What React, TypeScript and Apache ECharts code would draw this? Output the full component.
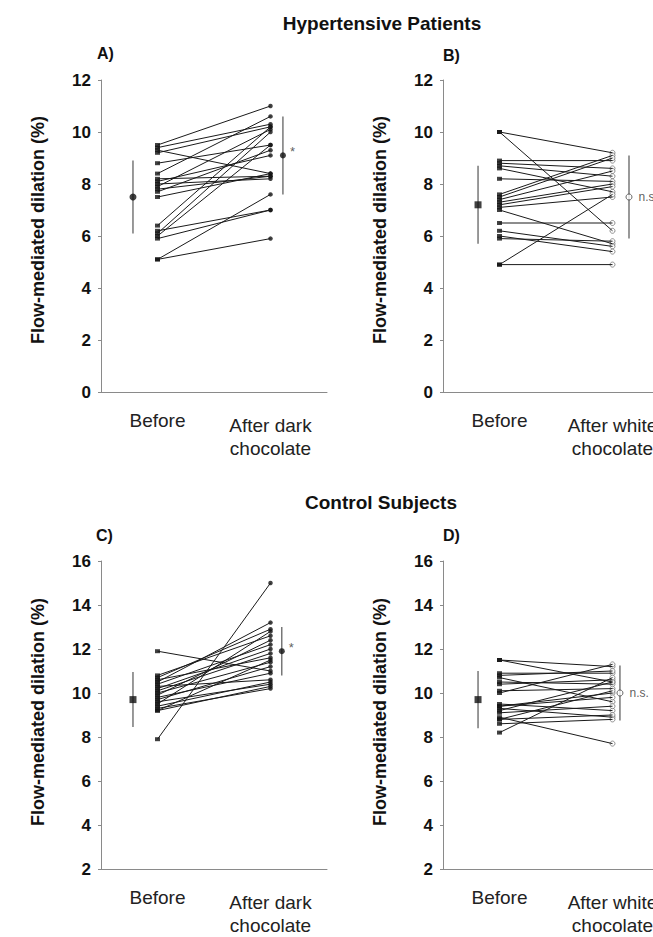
import React, { useEffect, useRef } from "react";
import * as echarts from "echarts";

// ---- data ----
const catsDark = ["Before", "After dark\nchocolate"];
const catsWhite = ["Before", "After white\nchocolate"];

const aBefore = [9.5, 9.4, 9.3, 9.2, 8.8, 8.4, 8.2, 8.1, 8.0, 7.9, 7.8, 7.7, 7.5, 6.4, 6.2, 6.1, 6.0, 5.9, 5.1, 5.1];
const aAfter = [11.0, 10.3, 8.4, 10.2, 9.5, 10.6, 8.3, 9.1, 8.2, 10.1, 8.3, 9.3, 8.4, 10.2, 7.0, 10.0, 9.5, 7.0, 7.6, 5.9];

const bBefore = [10.0, 10.0, 8.9, 8.8, 8.7, 8.6, 8.2, 7.6, 7.5, 7.4, 7.3, 7.2, 7.1, 7.0, 6.5, 6.2, 6.0, 5.9, 4.9, 4.9];
const bAfter = [6.2, 9.2, 8.9, 8.6, 8.3, 7.7, 8.1, 9.1, 9.0, 8.5, 8.0, 7.9, 7.5, 5.7, 6.5, 5.6, 5.4, 5.8, 4.9, 7.6];

const cBefore = [11.9, 10.8, 10.7, 10.6, 10.5, 10.4, 10.3, 10.2, 10.1, 10.0, 9.9, 9.8, 9.7, 9.6, 9.5, 9.4, 9.3, 9.2, 9.2, 7.9];
const cAfter = [11.0, 12.6, 12.9, 11.6, 13.2, 12.2, 10.6, 12.0, 11.8, 11.4, 12.4, 10.9, 11.2, 10.4, 12.8, 10.5, 10.2, 11.5, 10.3, 15.0];

const dBefore = [11.5, 11.5, 10.9, 10.8, 10.7, 10.5, 10.4, 10.1, 10.0, 9.5, 9.4, 9.4, 9.3, 9.2, 9.1, 8.9, 8.8, 8.8, 8.6, 8.2];
const dAfter = [11.2, 10.5, 10.9, 11.0, 9.6, 10.4, 10.6, 10.2, 11.3, 9.2, 10.0, 9.8, 8.9, 10.5, 9.4, 7.7, 10.1, 9.0, 8.8, 10.7];

const meanA = [7.5, 9.1];
const sdA = [1.4, 1.5];
const meanB = [7.2, 7.5];
const sdB = [1.5, 1.6];
const meanC = [9.7, 11.9];
const sdC = [1.25, 1.1];
const meanD = [9.7, 10.0];
const sdD = [1.3, 1.25];

const yTicksTop = { min: 0, max: 12, step: 2 };
const yTicksBottom = { min: 2, max: 16, step: 2 };

const sigLabels = ["*", "n.s", "*", "n.s."];
const panelLetters = ["A)", "B)", "C)", "D)"];
const titles = ["Hypertensive Patients", "Control Subjects"];
const yName = "Flow-mediated dilation (%)";

const FONT = "'Liberation Sans', Arial, Helvetica, sans-serif";

export default function App() {
  const ref = useRef<HTMLDivElement>(null);

  useEffect(() => {
    if (!ref.current) return;
    const chart = echarts.init(ref.current, null, { renderer: "svg" });

    const panels = [
      { left: 101, top: 80, height: 312, ticks: yTicksTop, cats: catsDark, before: aBefore, after: aAfter, mean: meanA, sd: sdA, open: false, xl: -0.217, xr: 1.11, meanSym: "circle" },
      { left: 443, top: 80, height: 312, ticks: yTicksTop, cats: catsWhite, before: bBefore, after: bAfter, mean: meanB, sd: sdB, open: true, xl: -0.19, xr: 1.146, meanSym: "rect" },
      { left: 101, top: 561, height: 314, ticks: yTicksBottom, cats: catsDark, before: cBefore, after: cAfter, mean: meanC, sd: sdC, open: false, xl: -0.217, xr: 1.10, meanSym: "rect" },
      { left: 443, top: 561, height: 314, ticks: yTicksBottom, cats: catsWhite, before: dBefore, after: dAfter, mean: meanD, sd: sdD, open: true, xl: -0.19, xr: 1.066, meanSym: "rect" },
    ];

    const grid: any[] = [];
    const xAxis: any[] = [];
    const yAxis: any[] = [];
    const series: any[] = [];

    panels.forEach((p, i) => {
      grid.push({ left: p.left, top: p.top, width: 226, height: p.height });
      xAxis.push({
        type: "category",
        gridIndex: i,
        data: p.cats.map((c, k) => ({
          value: c,
          textStyle: { padding: k === 0 ? [0, 0, 0, 0] : [5, 0, 0, 0] },
        })),
        axisLine: { show: true, onZero: false, lineStyle: { color: "#8a8a8a", width: 1 } },
        axisTick: { show: false },
        axisLabel: {
          interval: 0,
          margin: 17,
          fontSize: 19,
          lineHeight: 23,
          color: "#222",
          fontFamily: FONT,
        },
        splitLine: { show: false },
      });
      xAxis.push({
        type: "value",
        gridIndex: i,
        min: -0.5,
        max: 1.5,
        show: false,
      });
      yAxis.push({
        type: "value",
        gridIndex: i,
        min: p.ticks.min,
        max: p.ticks.max,
        interval: p.ticks.step,
        axisLine: { show: true, onZero: false, lineStyle: { color: "#8a8a8a", width: 1 } },
        axisTick: { show: true, length: 3, lineStyle: { color: "#8a8a8a" } },
        axisLabel: {
          fontSize: 17,
          fontWeight: "bold",
          color: "#111",
          margin: 10,
          fontFamily: FONT,
        },
        splitLine: { show: false },
      });

      const xi = 2 * i + 1;
      p.before.forEach((b, k) => {
        series.push({
          type: "line",
          xAxisIndex: xi,
          yAxisIndex: i,
          data: [
            [0, b],
            [1, p.after[k]],
          ],
          symbol: "none",
          silent: true,
          lineStyle: { color: "#1a1a1a", width: 1 },
        });
      });
      series.push({
        type: "scatter",
        xAxisIndex: xi,
        yAxisIndex: i,
        data: p.before.map((v) => [0, v]),
        symbol: "rect",
        symbolSize: [5, 4],
        itemStyle: { color: "#111" },
        silent: true,
      });
      series.push({
        type: "scatter",
        xAxisIndex: xi,
        yAxisIndex: i,
        data: p.after.map((v) => [1, v]),
        symbol: "circle",
        symbolSize: p.open ? 5 : 4.5,
        itemStyle: p.open
          ? { color: "#fff", borderColor: "#555", borderWidth: 0.8 }
          : { color: "#111" },
        silent: true,
      });
      // error bars (mean ± SD)
      [p.xl, p.xr].forEach((x, k) => {
        series.push({
          type: "line",
          xAxisIndex: xi,
          yAxisIndex: i,
          data: [
            [x, p.mean[k] - p.sd[k]],
            [x, p.mean[k] + p.sd[k]],
          ],
          symbol: "none",
          silent: true,
          lineStyle: { color: "#555", width: 1.2 },
          z: 3,
        });
      });
      series.push({
        type: "scatter",
        xAxisIndex: xi,
        yAxisIndex: i,
        data: [[p.xl, p.mean[0]]],
        symbol: p.meanSym,
        symbolSize: 7,
        itemStyle: { color: "#111" },
        silent: true,
        z: 4,
      });
      series.push({
        type: "scatter",
        xAxisIndex: xi,
        yAxisIndex: i,
        data: [[p.xr, p.mean[1]]],
        symbol: "circle",
        symbolSize: 6,
        itemStyle: p.open
          ? { color: "#fff", borderColor: "#444", borderWidth: 1 }
          : { color: "#111" },
        label: {
          show: true,
          position: "right",
          distance: p.open ? 6 : 4,
          offset: p.open ? [0, 0] : [0, -4],
          formatter: sigLabels[i],
          fontSize: p.open ? 12 : 13,
          color: "#333",
          fontFamily: FONT,
        },
        silent: true,
        z: 4,
      });
    });

    const graphic: any[] = [];
    const letterPos = [
      [97, 53],
      [443, 55],
      [96, 535],
      [443, 535],
    ];
    panelLetters.forEach((t, i) => {
      graphic.push({
        type: "text",
        x: letterPos[i][0],
        y: letterPos[i][1],
        style: {
          text: t,
          font: `bold 16px ${FONT}`,
          fill: "#111",
          verticalAlign: "middle",
          align: "left",
        },
      });
    });
    [
      [382, 23],
      [381, 502],
    ].forEach((pos, i) => {
      graphic.push({
        type: "text",
        x: pos[0],
        y: pos[1],
        style: {
          text: titles[i],
          font: `bold 19px ${FONT}`,
          fill: "#111",
          align: "center",
          verticalAlign: "middle",
        },
      });
    });
    [
      [38, 230],
      [380, 230],
      [38, 712],
      [380, 712],
    ].forEach((pos) => {
      graphic.push({
        type: "text",
        x: pos[0],
        y: pos[1],
        rotation: Math.PI / 2,
        style: {
          text: yName,
          font: `bold 18px ${FONT}`,
          fill: "#111",
          align: "center",
          verticalAlign: "middle",
        },
      });
    });

    chart.setOption({
      animation: false,
      backgroundColor: "#fff",
      grid,
      xAxis,
      yAxis,
      series,
      graphic,
    });

    return () => chart.dispose();
  }, []);

  return (
    <div
      style={{
        position: "absolute",
        left: 0,
        top: 0,
        width: 653,
        height: 937,
        overflow: "hidden",
      }}
    >
      <div ref={ref} style={{ width: 720, height: 937 }} />
    </div>
  );
}
